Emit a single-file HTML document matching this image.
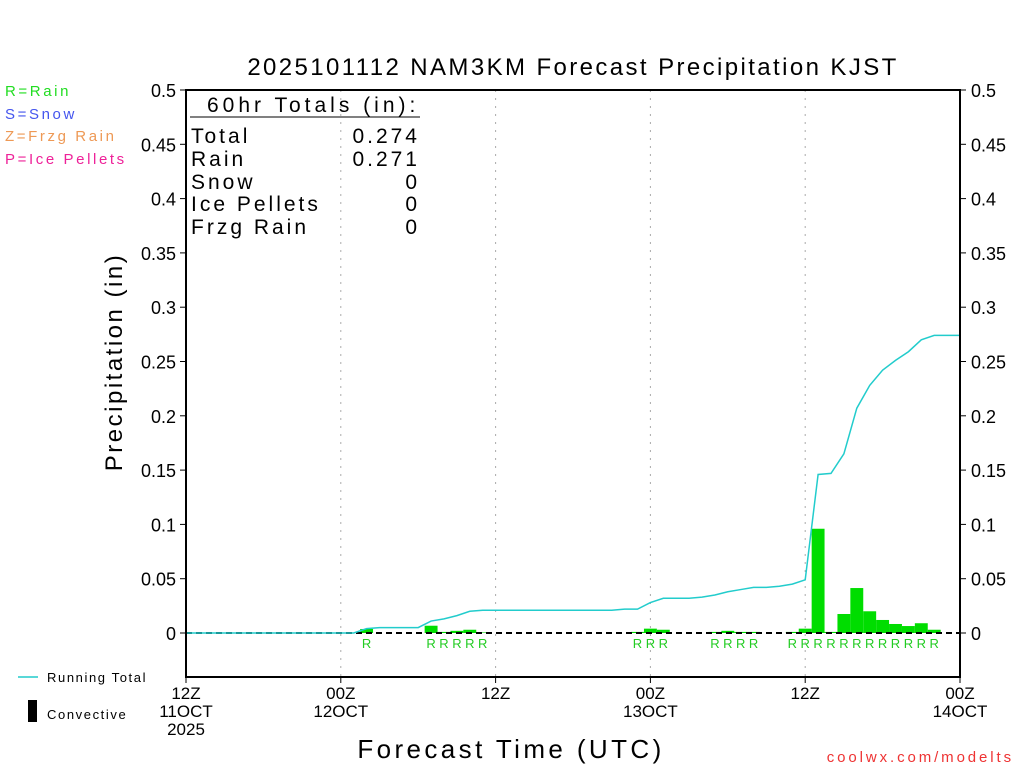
<!DOCTYPE html>
<html><head><meta charset="utf-8"><style>
html,body{margin:0;padding:0;background:#fff;}
svg{display:block;font-family:"Liberation Sans",sans-serif;}
</style></head><body>
<svg id="chart" width="1024" height="768" xmlns="http://www.w3.org/2000/svg">
<rect width="1024" height="768" fill="#fff"/>
<text x="573" y="75" font-size="24" letter-spacing="2.4" text-anchor="middle" fill="#000">2025101112 NAM3KM Forecast Precipitation KJST</text>
<g font-size="15" letter-spacing="2.6">
<text x="5" y="96" fill="#22dd22">R=Rain</text>
<text x="5" y="119" fill="#4455ee">S=Snow</text>
<text x="5" y="141" fill="#ee9955">Z=Frzg Rain</text>
<text x="5" y="164" fill="#ee2299">P=Ice Pellets</text>
</g>
<g id="grid"></g>
<g id="bars"></g>
<line x1="186" y1="633" x2="960" y2="633" stroke="#000" stroke-width="2" stroke-dasharray="6,4"/>
<polyline id="total-line" fill="none" stroke="#22cccc" stroke-width="1.5"/>
<g id="rlabels" font-size="13" fill="#22cc22" text-anchor="middle"></g>
<rect x="186" y="90" width="774" height="587" fill="none" stroke="#000" stroke-width="2"/>
<g id="yticks" font-size="18" fill="#000"></g>
<g id="xticks" font-size="17" fill="#000" text-anchor="middle"></g>
<g font-size="21" fill="#000" letter-spacing="3">
<text x="207" y="112" letter-spacing="4">60hr Totals (in):</text>
<line x1="190" y1="117" x2="420" y2="117" stroke="#000" stroke-width="1"/>
<text x="191" y="143">Total</text><text x="420" y="143" text-anchor="end">0.274</text>
<text x="191" y="166">Rain</text><text x="420" y="166" text-anchor="end">0.271</text>
<text x="191" y="189">Snow</text><text x="420" y="189" text-anchor="end">0</text>
<text x="191" y="211">Ice Pellets</text><text x="420" y="211" text-anchor="end">0</text>
<text x="191" y="234">Frzg Rain</text><text x="420" y="234" text-anchor="end">0</text>
</g>
<text transform="translate(122,362) rotate(-90)" font-size="24" letter-spacing="2.5" text-anchor="middle">Precipitation (in)</text>
<text x="511" y="758" font-size="26" letter-spacing="3.4" text-anchor="middle">Forecast Time (UTC)</text>
<g font-size="13" letter-spacing="1.6">
<line x1="18" y1="677" x2="38" y2="677" stroke="#22cccc" stroke-width="1.5"/>
<text x="47" y="682">Running Total</text>
<rect x="28" y="700" width="9" height="22" fill="#000"/>
<text x="47" y="719">Convective</text>
</g>
<text x="1014" y="762" font-size="15" letter-spacing="2.9" fill="#ee3333" text-anchor="end">coolwx.com/modelts</text>
</svg>
<script>
const hours = [0,1,2,3,4,5,6,7,8,9,10,11,12,13,14,15,16,17,18,19,20,21,22,23,24,25,26,27,28,29,30,31,32,33,34,35,36,37,38,39,40,41,42,43,44,45,46,47,48,49,50,51,52,53,54,55,56,57,58,59,60];
const runningTotal = [0,0,0,0,0,0,0,0,0,0,0,0,0,0,0.004,0.005,0.005,0.005,0.005,0.011,0.013,0.016,0.020,0.021,0.021,0.021,0.021,0.021,0.021,0.021,0.021,0.021,0.021,0.021,0.022,0.022,0.028,0.032,0.032,0.032,0.033,0.035,0.038,0.040,0.042,0.042,0.043,0.045,0.049,0.146,0.147,0.165,0.207,0.228,0.242,0.251,0.259,0.270,0.274,0.274,0.274];
const barHours = [14,19,20,21,22,23,35,36,37,41,42,43,44,47,48,49,50,51,52,53,54,55,56,57,58];
const barValues = [0.0037,0.0067,0.001,0.002,0.003,0.0005,0.001,0.004,0.003,0.001,0.002,0.001,0.001,0.001,0.004,0.096,0.001,0.0175,0.0414,0.020,0.012,0.0083,0.0064,0.009,0.003];
const rainLabelHours = [14,19,20,21,22,23,35,36,37,41,42,43,44,47,48,49,50,51,52,53,54,55,56,57,58];
const yTickValues = [0,0.05,0.1,0.15,0.2,0.25,0.3,0.35,0.4,0.45,0.5];
const yTickLabels = ["0","0.05","0.1","0.15","0.2","0.25","0.3","0.35","0.4","0.45","0.5"];
const xTickHours = [0,12,24,36,48,60];
const xTickLabels = [["12Z","11OCT","2025"],["00Z","12OCT"],["12Z"],["00Z","13OCT"],["12Z"],["00Z","14OCT"]];

const NS="http://www.w3.org/2000/svg";
const X0=186,X1=960,HMAX=60,Y0=633,YS=1086;
const xs=h=>X0+(X1-X0)*h/HMAX;
const ys=v=>Y0-v*YS;
function mk(tag,attrs,parent){const e=document.createElementNS(NS,tag);for(const k in attrs)e.setAttribute(k,attrs[k]);parent.appendChild(e);return e;}
const grid=document.getElementById('grid');
xTickHours.forEach(h=>{if(h>0&&h<HMAX){const l=mk('line',{x1:xs(h),x2:xs(h),y1:90,y2:677,stroke:'#aaa','stroke-dasharray':'2,6'},grid);

}});
const bars=document.getElementById('bars');
const bw=xs(1)-xs(0);
barHours.forEach((h,i)=>{const v=barValues[i];const r=mk('rect',{x:xs(h)-bw/2,y:ys(v),width:bw,height:Math.max(0,ys(0)-ys(v)),fill:'#00dd00'},bars);

});
document.getElementById('total-line').setAttribute('points',hours.map((h,i)=>xs(h)+','+ys(runningTotal[i])).join(' '));
const rl=document.getElementById('rlabels');
rainLabelHours.forEach(h=>{const t=mk('text',{x:xs(h),y:648},rl);t.textContent='R';

});
const yt=document.getElementById('yticks');
yTickValues.forEach((v,i)=>{const y=ys(v);
mk('line',{x1:180,x2:186,y1:y,y2:y,stroke:'#000'},yt);
mk('line',{x1:960,x2:966,y1:y,y2:y,stroke:'#000'},yt);
const a=mk('text',{x:176,y:y+7,'text-anchor':'end'},yt);a.textContent=yTickLabels[i];


const b=mk('text',{x:971,y:y+7},yt);b.textContent=yTickLabels[i];

});
const xt=document.getElementById('xticks');
xTickHours.forEach((h,i)=>{const x=xs(h);mk('line',{x1:x,x2:x,y1:677,y2:683,stroke:'#000'},xt);
xTickLabels[i].forEach((s,j)=>{const t=mk('text',{x:x,y:699+j*18},xt);t.textContent=s;

});});
</script>
</body></html>
